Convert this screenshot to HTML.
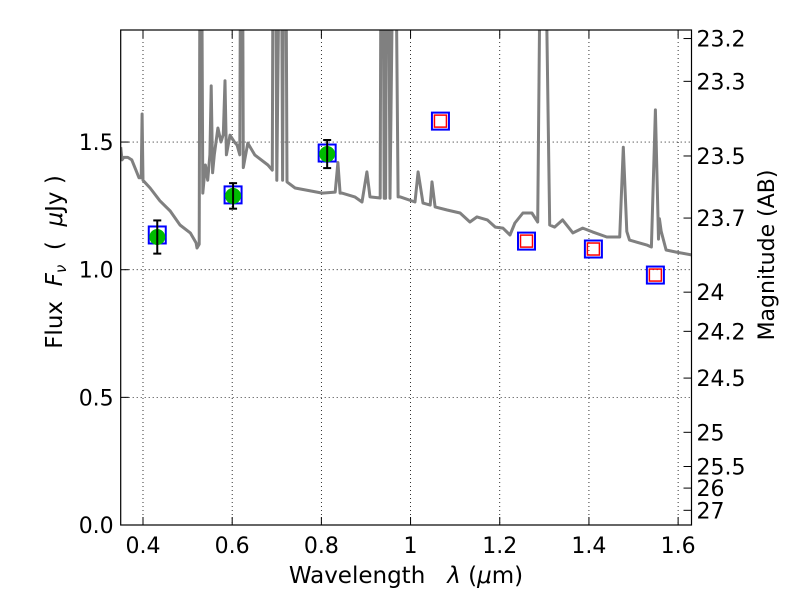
<!DOCTYPE html>
<html><head><meta charset="utf-8"><style>
html,body{margin:0;padding:0;background:#fff;}
svg{display:block;font-family:"DejaVu Sans","Liberation Sans",sans-serif;}
text{white-space:pre;}
</style></head><body>
<svg id="chart" width="800" height="600"></svg>
<script>
const specLam=[0.35,0.353,0.357,0.366,0.375,0.384,0.391,0.396,0.398,0.400,0.416,0.438,0.461,0.483,0.506,0.519,0.521,0.526,0.528,0.531,0.534,0.54,0.545,0.550,0.553,0.556,0.56,0.568,0.575,0.580,0.584,0.587,0.595,0.605,0.611,0.617,0.619,0.623,0.625,0.635,0.651,0.680,0.690,0.692,0.697,0.700,0.707,0.710,0.713,0.716,0.720,0.723,0.741,0.802,0.831,0.837,0.842,0.846,0.875,0.891,0.902,0.909,0.932,0.934,0.938,0.941,0.944,0.947,0.950,0.954,0.962,0.966,0.972,0.977,1.010,1.017,1.028,1.044,1.048,1.055,1.082,1.111,1.133,1.149,1.172,1.190,1.207,1.223,1.234,1.252,1.272,1.285,1.292,1.301,1.312,1.323,1.341,1.364,1.386,1.408,1.440,1.469,1.477,1.485,1.491,1.529,1.540,1.549,1.556,1.558,1.562,1.573,1.596,1.630];
const specFlux=[1.48,1.43,1.44,1.44,1.43,1.39,1.36,1.36,1.61,1.35,1.32,1.27,1.23,1.175,1.144,1.105,1.085,1.1,2.5,2.5,1.3,1.41,1.35,1.45,1.72,1.38,1.45,1.555,1.5,1.53,1.74,1.45,1.527,1.5,1.488,1.45,2.5,2.5,1.40,1.496,1.449,1.41,1.39,2.5,2.5,1.35,2.5,2.5,1.35,2.5,2.5,1.344,1.32,1.30,1.304,1.42,1.30,1.30,1.285,1.265,1.383,1.285,1.281,2.5,2.5,1.28,1.28,2.5,2.5,1.28,2.5,2.5,1.285,1.285,1.265,1.383,1.261,1.253,1.344,1.246,1.234,1.222,1.187,1.207,1.195,1.167,1.163,1.136,1.183,1.222,1.222,1.187,2.5,2.5,1.175,1.167,1.195,1.144,1.163,1.148,1.128,1.128,1.48,1.15,1.116,1.097,1.089,1.626,1.12,1.2,1.15,1.077,1.069,1.058];
const obsLam=[0.432,0.602,0.813];
const obsFlux=[1.128,1.289,1.453];
const obsErr=[0.065,0.05,0.055];
const modLamBlue=[0.432,0.602,0.813];
const modFluxBlue=[1.136,1.293,1.457];
const predLam=[1.067,1.260,1.410,1.549];
const predFlux=[1.582,1.112,1.081,0.979];
const xTicks=[0.4,0.6,0.8,1.0,1.2,1.4,1.6];
const xTickLabels=["0.4","0.6","0.8","1","1.2","1.4","1.6"];
const yTicks=[0,0.5,1.0,1.5];
const yTickLabels=["0.0","0.5","1.0","1.5"];
const magTicks=[23.2,23.3,23.5,23.7,24,24.2,24.5,25,25.5,26,27];
const magLabels=["23.2","23.3","23.5","23.7","24","24.2","24.5","25","25.5","26","27"];

const L=120.7,R=691.5,T=30,B=525;
const X0=0.35,X1=1.63,Y0=0,Y1=(B-T)/255.3;
const sx=v=>L+(v-X0)/(X1-X0)*(R-L);
const sy=v=>B-(v-Y0)/(Y1-Y0)*(B-T);
const svg=document.getElementById('chart');
const NS='http://www.w3.org/2000/svg';
function mk(tag,attrs,parent){const e=document.createElementNS(NS,tag);for(const k in attrs)e.setAttribute(k,attrs[k]);(parent||svg).appendChild(e);return e;}

const defs=mk('defs',{});
const cp=mk('clipPath',{id:'clip'},defs);
mk('rect',{x:L,y:T,width:R-L,height:B-T},cp);

const grid=mk('g',{});


xTicks.forEach(v=>{mk('line',{x1:sx(v),x2:sx(v),y1:T,y2:B,stroke:'#000','stroke-width':0.8,'stroke-dasharray':'1,3'},grid);});
yTicks.forEach(v=>{mk('line',{x1:L,x2:R,y1:sy(v),y2:sy(v),stroke:'#000','stroke-width':0.8,'stroke-dasharray':'1,3'},grid);});

let d='';
specLam.forEach((l,i)=>{d+=(i?'L':'M')+sx(l).toFixed(1)+','+sy(specFlux[i]).toFixed(1);});
const sp=mk('path',{d:d,fill:'none',stroke:'#808080','stroke-width':3,'stroke-linejoin':'round','clip-path':'url(#clip)'});



modLamBlue.forEach((l,i)=>{
  const r=mk('rect',{x:sx(l)-8.5,y:sy(modFluxBlue[i])-8.5,width:17,height:17,fill:'none',stroke:'#0000ff','stroke-width':2});
  
  
});
obsLam.forEach((l,i)=>{
  const g=mk('g',{});
  
  
  mk('circle',{cx:sx(l),cy:sy(obsFlux[i]),r:8,fill:'#00bb00'},g);
  const x=sx(l),y1=sy(obsFlux[i]+obsErr[i]),y2=sy(obsFlux[i]-obsErr[i]);
  mk('line',{x1:x,x2:x,y1:y1,y2:y2,stroke:'#000','stroke-width':2},g);
  mk('line',{x1:x-4,x2:x+4,y1:y1,y2:y1,stroke:'#000','stroke-width':2},g);
  mk('line',{x1:x-4,x2:x+4,y1:y2,y2:y2,stroke:'#000','stroke-width':2},g);
});
predLam.forEach((l,i)=>{
  const g=mk('g',{});
  
  
  mk('rect',{x:sx(l)-8.5,y:sy(predFlux[i])-8.5,width:17,height:17,fill:'none',stroke:'#0000ff','stroke-width':2},g);
  mk('rect',{x:sx(l)-6,y:sy(predFlux[i])-6,width:12,height:12,fill:'none',stroke:'#ff0000','stroke-width':1.5},g);
});

const fr=mk('rect',{x:L,y:T,width:R-L,height:B-T,fill:'none',stroke:'#000','stroke-width':1.2});



xTicks.forEach((v,i)=>{
  const x=sx(v);
  mk('line',{x1:x,x2:x,y1:B,y2:B-8,stroke:'#000','stroke-width':1});
  mk('line',{x1:x,x2:x,y1:T,y2:T+8,stroke:'#000','stroke-width':1});
  const t=mk('text',{x:x,y:B+28,'text-anchor':'middle','font-size':22});
  t.textContent=xTickLabels[i];
  
  
});
yTicks.forEach((v,i)=>{
  const y=sy(v);
  mk('line',{x1:L,x2:L+8,y1:y,y2:y,stroke:'#000','stroke-width':1});
  const t=mk('text',{x:L-7,y:y+8,'text-anchor':'end','font-size':22});
  t.textContent=yTickLabels[i];
  
  
});
magTicks.forEach((m,i)=>{
  const f=Math.pow(10,(23.9-m)/2.5);
  const y=sy(f);
  mk('line',{x1:R,x2:R-8,y1:y,y2:y,stroke:'#000','stroke-width':1});
  const t=mk('text',{x:R+5,y:y+8,'font-size':22});
  t.textContent=magLabels[i];
  
  
});

const xt=mk('text',{x:406,y:583,'text-anchor':'middle','font-size':23});
xt.innerHTML='Wavelength   <tspan font-style="italic">λ</tspan> (<tspan font-style="italic">μ</tspan>m)';


const yt=mk('text',{x:0,y:0,'text-anchor':'middle','font-size':23,transform:'translate(62,262) rotate(-90)'});
yt.innerHTML='Flux  <tspan font-style="italic">F</tspan><tspan font-style="italic" font-size="15" dy="4">ν</tspan><tspan dy="-4">  (  </tspan><tspan font-style="italic">μ</tspan>Jy )';


const rt=mk('text',{x:0,y:0,'text-anchor':'middle','font-size':22,transform:'translate(774,255) rotate(-90)'});
rt.textContent='Magnitude (AB)';


</script>
</body></html>
